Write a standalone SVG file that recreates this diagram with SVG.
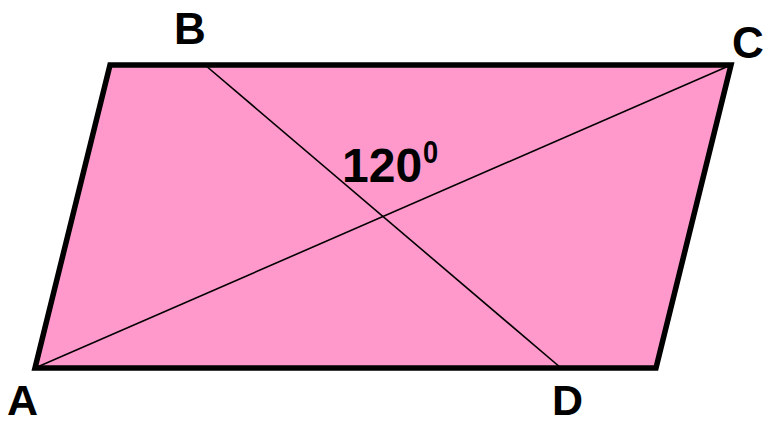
<svg xmlns="http://www.w3.org/2000/svg" width="767" height="425" viewBox="0 0 767 425">
<style>
.lbl{font-family:"Liberation Sans",Arial,sans-serif;font-weight:bold;fill:#000}
.diag{stroke:#000;stroke-width:1.6;fill:none}
</style>
<rect width="767" height="425" fill="#fff"/>
<g id="parallelogram">
<polygon points="110,65 731,65 656,368 35,368" fill="#FF99CC" stroke="#000" stroke-width="5.5" stroke-linejoin="miter"/>
</g>
<g id="connectors">
<line class="diag" x1="205" y1="65" x2="561" y2="368"/>
<line class="diag" x1="35" y1="368" x2="731" y2="65"/>
</g>
<g id="labels">
<text class="lbl" x="174" y="44" font-size="44">B</text>
<text class="lbl" x="732" y="58" font-size="44">C</text>
<text class="lbl" x="7" y="415" font-size="43">A</text>
<text class="lbl" x="552" y="415" font-size="43">D</text>
<g id="angle">
<text class="lbl" x="342" y="182" font-size="48">120</text>
<text class="lbl" font-size="32" transform="translate(423,163) scale(0.85,1)">0</text>
</g>
</g>
</svg>
